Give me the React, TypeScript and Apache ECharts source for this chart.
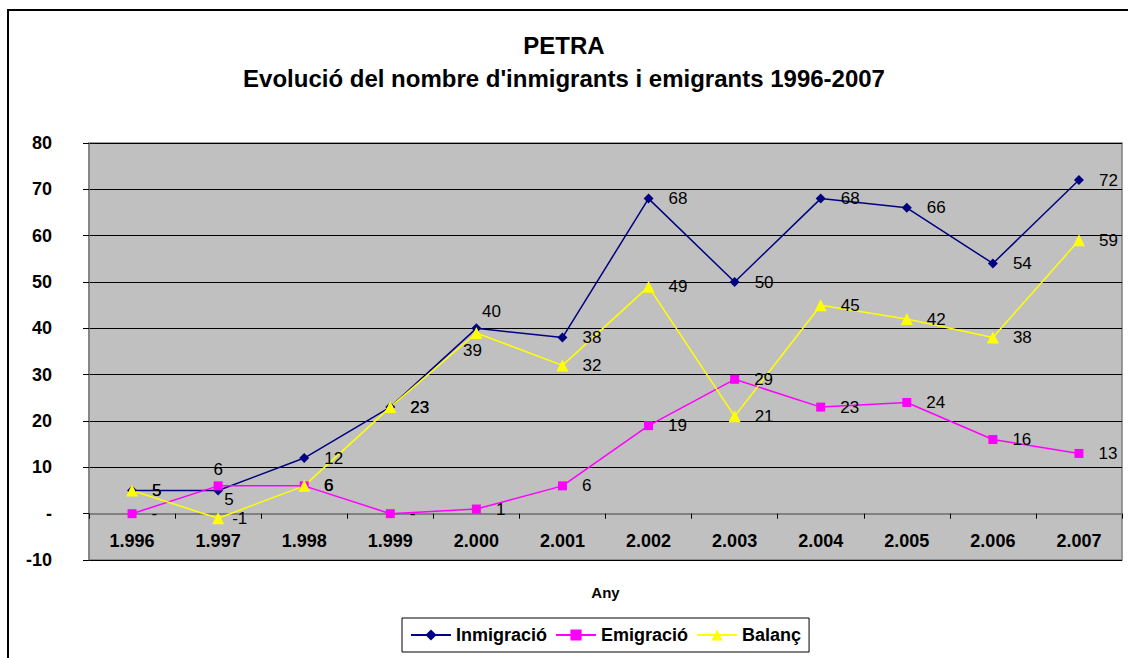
import React, { useEffect, useRef } from "react";
import * as echarts from "echarts";

const years = ["1.996", "1.997", "1.998", "1.999", "2.000", "2.001", "2.002", "2.003", "2.004", "2.005", "2.006", "2.007"];
const inmigracio = [5, 5, 12, 23, 40, 38, 68, 50, 68, 66, 54, 72];
const emigracio = [0, 6, 6, 0, 1, 6, 19, 29, 23, 24, 16, 13];
const balanc = [5, -1, 6, 23, 39, 32, 49, 21, 45, 42, 38, 59];

const titleText = "PETRA";
const subtitleText = "Evolució del nombre d'inmigrants i emigrants 1996-2007";
const xAxisName = "Any";

const FONT = "'Liberation Sans', Arial, sans-serif";

const Y_MIN = -10;
const Y_MAX = 80;
const GRID_TOP = 143;
const GRID_BOTTOM_PX = 560;

const fmt = (v: number) => (v === 0 ? "-" : String(v));

const labelOverrides: Record<string, Record<number, any>> = {
  "Inmigració": {
    1: { position: "right", offset: [-14, 9] },
    4: { position: "top", distance: 3, offset: [15, 0] },
  },
  "Emigració": {
    1: { position: "top", distance: 3 },
  },
  "Balanç": {
    1: { position: "right", distance: 8 },
    4: { position: "bottom", distance: 3, offset: [-4, 0] },
  },
};

function buildData(name: string, values: number[]) {
  const ov = labelOverrides[name] || {};
  return values.map((v, i) => (ov[i] ? { value: v, label: ov[i] } : v));
}

function makeSeries(name: string, values: number[], color: string, symbol: string, size: number, dist: number) {
  return {
    name,
    type: "line",
    data: buildData(name, values),
    symbol,
    symbolSize: size,
    lineStyle: { color, width: 1.5 },
    itemStyle: { color, borderWidth: 0 },
    label: {
      show: true,
      position: "right",
      distance: dist,
      formatter: (p: any) => fmt(p.value),
      color: "#000",
      fontSize: 17,
      fontFamily: FONT,
    },
    emphasis: { disabled: true },
  };
}

export default function App() {
  const ref = useRef<HTMLDivElement>(null);
  useEffect(() => {
    if (!ref.current) return;
    const chart = echarts.init(ref.current, undefined, { renderer: "svg" });
    // position of the value 0 within the grid, so the category axis sits on zero
    const plotH = GRID_BOTTOM_PX - GRID_TOP;
    const zeroFromBottom = (0 - Y_MIN) / (Y_MAX - Y_MIN) * plotH;
    chart.setOption({
      animation: false,
      backgroundColor: "#fff",
      textStyle: { fontFamily: FONT },
      title: [
        {
          text: titleText,
          left: "center",
          top: 33,
          padding: 0,
          textStyle: { fontSize: 24, fontWeight: "bold", color: "#000", fontFamily: FONT },
        },
        {
          text: subtitleText,
          left: "center",
          top: 66,
          padding: 0,
          textStyle: { fontSize: 24, fontWeight: "bold", color: "#000", fontFamily: FONT },
        },
      ],
      graphic: [
        {
          type: "rect",
          shape: { x: 8, y: 10, width: 1300, height: 800 },
          style: { fill: "none", stroke: "#000", lineWidth: 2 },
          silent: true,
          z: -1,
        },
      ],
      grid: {
        left: 89,
        right: 6,
        top: GRID_TOP,
        bottom: 658 - GRID_BOTTOM_PX,
        show: true,
        backgroundColor: "#C0C0C0",
        borderColor: "#808080",
        borderWidth: 1.5,
      },
      legend: {
        left: 402,
        top: 618,
        padding: [7, 8, 7, 8],
        itemGap: 8,
        itemWidth: 40,
        itemHeight: 14,
        borderColor: "#000",
        borderWidth: 1,
        textStyle: { fontSize: 18, fontWeight: "bold", color: "#000", fontFamily: FONT, lineHeight: 20 },
        data: ["Inmigració", "Emigració", "Balanç"],
      },
      xAxis: {
        type: "category",
        data: years,
        boundaryGap: true,
        offset: -zeroFromBottom,
        name: xAxisName,
        nameLocation: "middle",
        nameGap: 71,
        nameTextStyle: { fontSize: 15, fontWeight: "bold", color: "#000", fontFamily: FONT },
        axisLine: { onZero: false, lineStyle: { color: "#808080", width: 2 } },
        axisTick: { show: true, length: 5, lineStyle: { color: "#000", width: 1 } },
        axisLabel: { fontSize: 18, fontWeight: "bold", color: "#000", margin: 18, fontFamily: FONT },
        splitLine: { show: false },
      },
      yAxis: {
        type: "value",
        min: Y_MIN,
        max: Y_MAX,
        interval: 10,
        axisLine: { show: true, lineStyle: { color: "#808080", width: 1.5 } },
        axisTick: { show: true, length: 6, lineStyle: { color: "#000", width: 1 } },
        axisLabel: {
          fontSize: 18,
          fontWeight: "bold",
          color: "#000",
          margin: 37,
          fontFamily: FONT,
          formatter: (v: number) => fmt(v),
        },
        splitLine: { show: true, lineStyle: { color: "#000", width: 1 } },
      },
      series: [
        makeSeries("Inmigració", inmigracio, "#000080", "diamond", 10, 15),
        makeSeries("Emigració", emigracio, "#FF00FF", "rect", 9, 15),
        makeSeries("Balanç", balanc, "#FFFF00", "triangle", 12, 14),
      ],
    });
    return () => chart.dispose();
  }, []);
  return (
    <div
      ref={ref}
      style={{ position: "absolute", left: 0, top: 0, width: 1128, height: 658 }}
    />
  );
}
